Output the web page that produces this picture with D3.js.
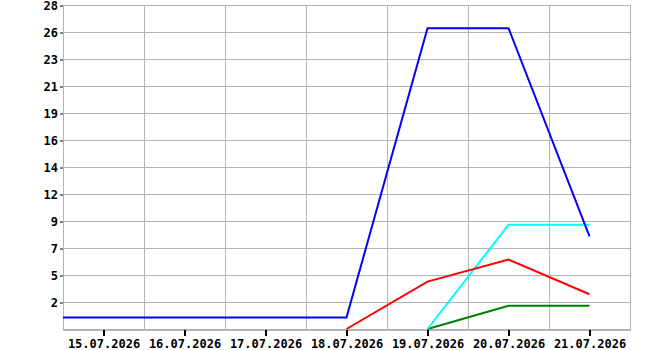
<!DOCTYPE html>
<html><head><meta charset="utf-8">
<script src="https://cdn.jsdelivr.net/npm/d3@7"></script>
<style>body{margin:0;background:#fff}svg{display:block}text{font-family:"DejaVu Sans Mono",monospace;font-weight:bold;font-size:12px;fill:#000}</style>
</head><body><svg id="c" width="670" height="350"></svg>
<script>
const dates = ["14.07.2026","15.07.2026","16.07.2026","17.07.2026","18.07.2026","19.07.2026","20.07.2026","21.07.2026"];
const xTickLabels = ["15.07.2026","16.07.2026","17.07.2026","18.07.2026","19.07.2026","20.07.2026","21.07.2026"];
const yTickLabels = ["2","5","7","9","12","14","16","19","21","23","26","28"];
const blueDates = ["14.07.2026","15.07.2026","16.07.2026","17.07.2026","18.07.2026","19.07.2026","20.07.2026","21.07.2026"];
const blueValues = [1,1,1,1,1,26,26,8];
const redDates = ["18.07.2026","19.07.2026","20.07.2026","21.07.2026"];
const redValues = [0,4.1,6,3];
const cyanDates = ["19.07.2026","20.07.2026","21.07.2026"];
const cyanValues = [0,9,9];
const greenDates = ["19.07.2026","20.07.2026","21.07.2026"];
const greenValues = [0,2,2];

const parse = d3.timeParse("%d.%m.%Y");
const L=63,R=630,T=5,B=329;
const day=86400000;
const x = d3.scaleTime()
  .domain([new Date(+parse("15.07.2026")-day/2), new Date(+parse("21.07.2026")+day/2)])
  .range([L,R]);
const y = d3.scaleLinear().domain([0,28]).range([B,T]);
const svg = d3.select("#c");
svg.append("defs").append("clipPath").attr("id","clip").append("rect")
  .attr("x",L).attr("y",T-2).attr("width",R-L).attr("height",B-T+3);

const yVals = d3.range(1,13).map(i=>i*28/12);
svg.append("g").selectAll("line").data(yVals).join("line")
  .attr("x1",L).attr("x2",R).attr("y1",d=>Math.round(y(d))+0.5).attr("y2",d=>Math.round(y(d))+0.5)
  .attr("stroke","#b4b4b4").attr("stroke-width",1);
const vg = d3.range(1,8).map(i=>new Date(+parse("15.07.2026")-day/2+i*day));
svg.append("g").selectAll("line").data(vg).join("line")
  .attr("x1",d=>Math.round(x(d))+0.5).attr("x2",d=>Math.round(x(d))+0.5).attr("y1",T).attr("y2",B)
  .attr("stroke","#b4b4b4").attr("stroke-width",1);
svg.append("line").attr("x1",L+0.5).attr("x2",L+0.5).attr("y1",T).attr("y2",B+1).attr("stroke","#b4b4b4");
svg.append("line").attr("x1",L).attr("x2",R+1).attr("y1",B+1).attr("y2",B+1).attr("stroke","#b4b4b4").attr("stroke-width",2);

const yAxis = d3.axisLeft(y).tickValues(yVals).tickSize(3).tickPadding(2)
  .tickFormat((d,i)=>yTickLabels[i]);
const gy = svg.append("g").attr("transform",`translate(${L},0.5)`).call(yAxis);
gy.select(".domain").remove();
gy.selectAll(".tick line").attr("stroke","#000");
gy.selectAll(".tick text").attr("dy","0.35em").style("font-size","12px");

const xAxis = d3.axisBottom(x).tickValues(xTickLabels.map(parse)).tickSize(6).tickPadding(3)
  .tickFormat((d,i)=>xTickLabels[i]);
const gx = svg.append("g").attr("transform",`translate(0,${B+1})`).call(xAxis);
gx.select(".domain").remove();
gx.selectAll(".tick line").attr("stroke","#000").attr("stroke-width",2);
gx.selectAll(".tick text").style("font-size","12px");

const line = d3.line().x(d=>x(d[0])).y(d=>y(d[1]));
const series = [
  [blueDates,blueValues,"#0000ff"],
  [redDates,redValues,"#ff0000"],
  [cyanDates,cyanValues,"#00ffff"],
  [greenDates,greenValues,"#008000"]
];
const gl = svg.append("g").attr("clip-path","url(#clip)");
series.slice().reverse().forEach(([ds,vs,c])=>{
  gl.append("path").datum(ds.map((d,i)=>[parse(d),vs[i]]))
    .attr("d",line).attr("fill","none").attr("stroke",c).attr("stroke-width",2);
});
</script></body></html>
